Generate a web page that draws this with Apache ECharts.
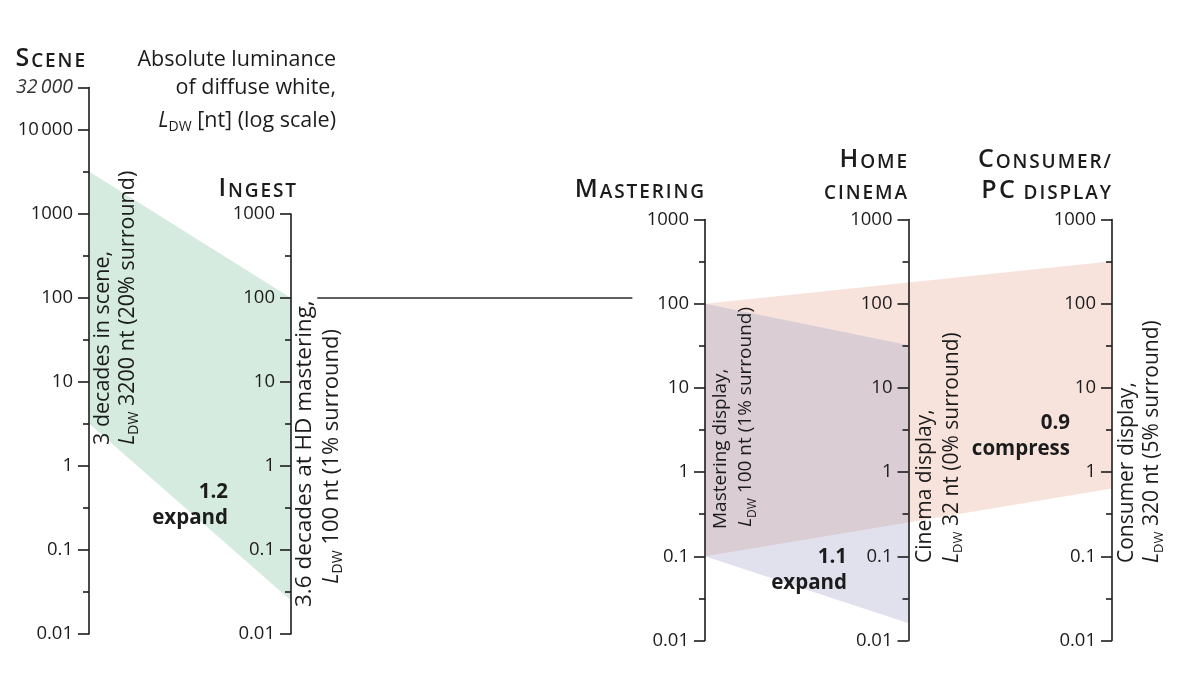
<!DOCTYPE html>
<html><head><meta charset="utf-8">
<script src="https://cdn.jsdelivr.net/npm/echarts@6/dist/echarts.min.js"></script>
<style>html,body{margin:0;padding:0;background:#fff}#c{width:1200px;height:675px}</style>
</head><body><div id="c"></div>
<script>
// ---- data ----
const stages = ['Scene', 'Ingest', 'Mastering', 'Home cinema', 'Consumer/PC display'];
const sceneRange = [3.2, 3200];        // [low, high] nt
const ingestRange = [0.025, 100];
const masteringRange = [0.1, 100];
const cinemaRange = [0.016, 32];
const consumerRange = [0.64, 320];
const sceneTicks = [0.01, 0.1, 1, 10, 100, 1000, 10000, 32000];
const displayTicks = [0.01, 0.1, 1, 10, 100, 1000];
const sceneMinorTicks = [0.0316, 0.316, 3.16, 31.6, 316, 3162];
const displayMinorTicks = [0.0316, 0.316, 3.16, 31.6, 316];
const tickLabelText = ['0.01', '0.1', '1', '10', '100', '1000', '10\u202F000', '32\u2009000'];
const connectorLevel = 100;
const connectorSpan = [1.13, 2.69];
const gains = ['1.2', '1.1', '0.9'];
const gainWords = ['expand', 'expand', 'compress'];

// ---- style ----
const F = '"Open Sans", "Noto Sans", sans-serif';
const C = '#1c1c1c';
const AX = { color: '#1c1c1c', width: 1.6 };

function labelFor(v) {
  let best = 0, bd = Infinity;
  sceneTicks.forEach((t, i) => { const d = Math.abs(Math.log10(v) - Math.log10(t)); if (d < bd) { bd = d; best = i; } });
  const s = tickLabelText[best];
  return sceneTicks[best] === 32000 ? '{it|' + s + '}' : s;
}

function majorAxis(gridIndex, max, ticks, opt) {
  return Object.assign({
    type: 'log', logBase: 10, gridIndex, min: 0.01, max, z: 10,
    axisLine: { show: true, onZero: false, lineStyle: AX },
    axisTick: { show: true, customValues: ticks, length: 11, lineStyle: AX },
    axisLabel: {
      show: true, customValues: ticks, margin: 16, fontFamily: F, fontSize: 18.5, color: C,
      formatter: labelFor,
      rich: { it: { fontFamily: F, fontSize: 19.5, fontStyle: 'italic', color: '#333' } }
    },
    splitLine: { show: false }, minorTick: { show: false }
  }, opt);
}
function minorAxis(gridIndex, max, ticks, opt) {
  return Object.assign({
    type: 'log', logBase: 10, gridIndex, min: 0.01, max, z: 10,
    axisLine: { show: false, onZero: false },
    axisTick: { show: true, customValues: ticks, length: 6, lineStyle: AX },
    axisLabel: { show: false },
    splitLine: { show: false }
  }, opt);
}

function quad(api, o) {
  const a1 = api.coord([api.value(o), api.value(o + 2)]);
  const a0 = api.coord([api.value(o), api.value(o + 1)]);
  const b1 = api.coord([api.value(o + 3), api.value(o + 5)]);
  const b0 = api.coord([api.value(o + 3), api.value(o + 4)]);
  return [a1, b1, b0, a0];
}
function band(xi, yi, xa, ra, xb, rb, color, z) {
  return {
    type: 'custom', xAxisIndex: xi, yAxisIndex: yi, silent: true, z,
    dimensions: ['xa', 'loa', 'hia', 'xb', 'lob', 'hib'],
    encode: { x: [0, 3], y: [1, 2, 4, 5] },
    data: [[xa, ra[0], ra[1], xb, rb[0], rb[1]]],
    renderItem: (params, api) => ({ type: 'polygon', shape: { points: quad(api, 0) }, style: { fill: color } })
  };
}
// overlap of two bands: first band clipped by the second
function overlap(xi, yi, xa, ra, xb, rb, xc, rc, color, z) {
  return {
    type: 'custom', xAxisIndex: xi, yAxisIndex: yi, silent: true, z,
    dimensions: ['xa', 'loa', 'hia', 'xb', 'lob', 'hib', 'xa2', 'loa2', 'hia2', 'xc', 'loc', 'hic'],
    encode: { x: [0, 3, 9], y: [1, 2, 4, 5, 10, 11] },
    data: [[xa, ra[0], ra[1], xb, rb[0], rb[1], xa, ra[0], ra[1], xc, rc[0], rc[1]]],
    renderItem: (params, api) => ({
      type: 'polygon', shape: { points: quad(api, 0) }, style: { fill: color },
      clipPath: { type: 'polygon', shape: { points: quad(api, 6) } }
    })
  };
}

// ---- text helpers ----
function richFor(fs) {
  return {
    i: { fontFamily: F, fontSize: fs, fontStyle: 'italic', color: C, lineHeight: 26 },
    s: { fontFamily: F, fontSize: Math.round(fs * 0.64), color: C, lineHeight: 26, verticalAlign: 'bottom' }
  };
}
function t(x, y, text, style, el) {
  const fs = (style && style.fontSize) || 19;
  return Object.assign({ type: 'text', x, y, z: 50, silent: true,
    style: Object.assign({ text, fill: C, fontFamily: F, fontSize: fs, lineHeight: 26, rich: richFor(fs) }, style) }, el || {});
}
const capsRich = {
  B: { fontFamily: F, fontSize: 25, fontWeight: 600, color: C, verticalAlign: 'bottom', lineHeight: 28 },
  S: { fontFamily: F, fontSize: 19, fontWeight: 600, color: C, verticalAlign: 'bottom', lineHeight: 28 }
};
const HS = '\u200A';
function spaced(s) { return s.split('').join(HS); }
function cap(x, yb, big, small) {
  let text = (big ? '{B|' + spaced(big) + '}' : '') + (small ? '{S|' + (big ? HS : '') + spaced(small) + '}' : '');
  return { type: 'text', x, y: yb, z: 50, silent: true,
    style: { text, fill: C, fontFamily: F, fontSize: 19, fontWeight: 600, align: 'right', verticalAlign: 'bottom', rich: capsRich, lineHeight: 28 } };
}
function vt(x, y, text, fs) {
  return t(x, y, text, { align: 'left', verticalAlign: 'middle', fontSize: fs }, { rotation: Math.PI / 2 });
}
function bold(x, y, text) {
  return t(x, y, text, { align: 'right', verticalAlign: 'middle', fontWeight: 700, fontSize: 20.5 });
}
const LDW = '{i|L}{s|DW}';

const graphics = [
  cap(85, 71, 'S', 'CENE'),
  cap(296, 201, 'I', 'NGEST'),
  cap(704, 202, 'M', 'ASTERING'),
  cap(907, 172, 'H', 'OME'),
  cap(907, 203, '', 'CINEMA'),
  cap(1111, 172, 'C', 'ONSUMER/'),
  cap(1111, 203, 'PC', ' DISPLAY'),
  t(336, 60, 'Absolute luminance', { align: 'right', verticalAlign: 'middle', fontSize: 21.5 }),
  t(336, 88, 'of diffuse white,', { align: 'right', verticalAlign: 'middle', fontSize: 21.5 }),
  t(336, 121, LDW + ' [nt] (log scale)', { align: 'right', verticalAlign: 'middle', fontSize: 21.5 }),
  vt(102.5, 445, '3 decades in scene,', 21.5),
  vt(128, 445, LDW + ' 3200 nt (20% surround)', 21.5),
  vt(305, 607, '3.6 decades at HD mastering,', 22.5),
  vt(332, 584, LDW + ' 100 nt (1% surround)', 22),
  vt(721, 529, 'Mastering display,', 19),
  vt(745.5, 527, LDW + ' 100 nt (1% surround)', 19),
  vt(925, 563, 'Cinema display,', 21),
  vt(952, 563, LDW + ' 32 nt (0% surround)', 21),
  vt(1127.5, 563, 'Consumer display,', 21),
  vt(1152.5, 563, LDW + ' 320 nt (5% surround)', 21),
  bold(228, 492, gains[0]), bold(228, 518, gainWords[0]),
  bold(847, 557, gains[1]), bold(847, 583, gainWords[1]),
  bold(1070, 423, gains[2]), bold(1070, 449, gainWords[2])
];

const option = {
  animation: false,
  backgroundColor: '#ffffff',
  grid: [
    { left: 89, top: 87.6, width: 202, height: 546.4, outerBoundsMode: 'none', containLabel: false },
    { left: 191, top: 214, width: 100, height: 420, outerBoundsMode: 'none', containLabel: false },
    { left: 705, top: 219.5, width: 407, height: 421, outerBoundsMode: 'none', containLabel: false }
  ],
  xAxis: [
    { type: 'value', gridIndex: 0, min: 0, max: 1, show: false },
    { type: 'value', gridIndex: 1, min: 0, max: 1, show: false },
    { type: 'value', gridIndex: 2, min: 0, max: 2, show: false }
  ],
  yAxis: [
    majorAxis(0, 32000, sceneTicks, { position: 'left' }),
    minorAxis(0, 32000, sceneMinorTicks, { position: 'left' }),
    majorAxis(1, 1000, displayTicks, { position: 'right' }),
    minorAxis(1, 1000, displayMinorTicks, { position: 'right' }),
    majorAxis(2, 1000, displayTicks, { position: 'left' }),
    minorAxis(2, 1000, displayMinorTicks, { position: 'left' }),
    majorAxis(2, 1000, displayTicks, { position: 'left', offset: -203.5 }),
    minorAxis(2, 1000, displayMinorTicks, { position: 'left', offset: -203.5 }),
    majorAxis(2, 1000, displayTicks, { position: 'right' }),
    minorAxis(2, 1000, displayMinorTicks, { position: 'right' })
  ],
  series: [
    band(0, 0, 0, sceneRange, 1, ingestRange, '#d6ebdf', 1),
    band(2, 4, 0, masteringRange, 2, consumerRange, '#f7e3dc', 1),
    band(2, 4, 0, masteringRange, 1, cinemaRange, '#e1e1ee', 2),
    overlap(2, 4, 0, masteringRange, 1, cinemaRange, 2, consumerRange, '#dacdd3', 3),
    {
      type: 'custom', xAxisIndex: 0, yAxisIndex: 0, silent: true, z: 4,
      dimensions: ['x0', 'level', 'x1'], encode: { x: [0, 2], y: 1 },
      data: [[connectorSpan[0], connectorLevel, connectorSpan[1]]],
      renderItem: (params, api) => {
        const a = api.coord([api.value(0), api.value(1)]);
        const b = api.coord([api.value(2), api.value(1)]);
        return { type: 'line', shape: { x1: a[0], y1: a[1], x2: b[0], y2: b[1] },
          style: { stroke: '#2a2a2a', lineWidth: 1.7 } };
      }
    }
  ],
  graphic: graphics
};
// inside ticks/labels for the right-hand axes (Ingest, Consumer)
[2, 3, 8, 9].forEach(i => { option.yAxis[i].axisTick.inside = true; option.yAxis[i].axisLabel.inside = true; });

const chart = echarts.init(document.getElementById('c'), null, { renderer: 'canvas' });
chart.setOption(option);
</script>
</body></html>
